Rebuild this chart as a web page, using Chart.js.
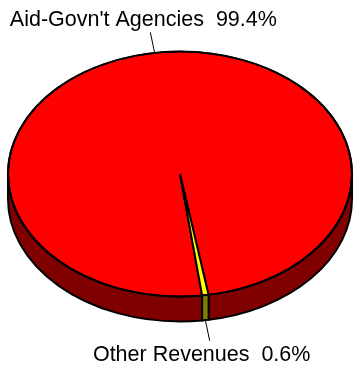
<!DOCTYPE html>
<html lang="en">
<head>
<meta charset="utf-8">
<title>revenue pie</title>
<script src="https://cdn.jsdelivr.net/npm/chart.js@4.4.0/dist/chart.umd.min.js"></script>
<style>
body { margin: 0; background: #fff; }
</style>
</head>
<body>
<canvas id="chart" width="354" height="368"></canvas>
<script>
const labels = ["Aid-Govn't Agencies", "Other Revenues"];
const shares = [99.4, 0.6];
const topColors = ['#ff0000', '#ffff00'];
const sideColors = ['#800000', '#808000'];

const squash = 122.5 / 172; // tilt of the disc
const depth = 25;           // thickness of the wall
const labelFont = '21.5px "Liberation Sans", Arial, sans-serif';

// draws the front wall, flattens the pie, then adds leader lines + labels
const tilt = {
	id: 'tilt',
	beforeDatasetsDraw(chart) {
		const ctx = chart.ctx;
		const arcs = chart.getDatasetMeta(0).data;
		const cx = arcs[0].x, cy = arcs[0].y, rx = arcs[0].outerRadius;
		const ry = rx * squash;
		arcs.forEach((arc, i) => {
			for (let k = -1; k <= 2; k++) {
				// only the part facing the viewer (0..PI) shows a wall
				const s = Math.max(arc.startAngle, 2 * Math.PI * k);
				const e = Math.min(arc.endAngle, 2 * Math.PI * k + Math.PI);
				if (e <= s) continue;
				ctx.beginPath();
				ctx.ellipse(cx, cy, rx, ry, 0, s, e);
				ctx.ellipse(cx, cy + depth, rx, ry, 0, e, s, true);
				ctx.closePath();
				ctx.fillStyle = sideColors[i];
				ctx.fill();
				ctx.lineWidth = 2;
				ctx.strokeStyle = '#000';
				ctx.stroke();
			}
		});
		ctx.save();
		ctx.translate(cx, cy);
		ctx.scale(1, squash);
		ctx.translate(-cx, -cy);
	},
	afterDatasetsDraw(chart) {
		const ctx = chart.ctx;
		ctx.restore();
		const arcs = chart.getDatasetMeta(0).data;
		const cx = arcs[0].x, cy = arcs[0].y, rx = arcs[0].outerRadius;
		const ry = rx * squash;
		ctx.save();
		// even out the rim, the scaling thins it at top and bottom
		ctx.beginPath();
		ctx.ellipse(cx, cy, rx, ry, 0, 0, 2 * Math.PI);
		ctx.lineWidth = 2;
		ctx.strokeStyle = '#000';
		ctx.stroke();

		ctx.font = labelFont;
		ctx.fillStyle = '#000';
		ctx.lineWidth = 1;
		ctx.textAlign = 'center';
		arcs.forEach((arc, i) => {
			const m = (arc.startAngle + arc.endAngle) / 2;
			const front = Math.sin(m) > 0;
			const x0 = cx + rx * Math.cos(m);
			const y0 = cy + ry * Math.sin(m) + (front ? depth : 0);
			let dx = rx * Math.cos(m), dy = ry * Math.sin(m);
			const len = Math.hypot(dx, dy);
			dx = dx / len * 21; dy = dy / len * 21;
			ctx.beginPath();
			ctx.moveTo(x0, y0);
			ctx.lineTo(x0 + dx, y0 + dy);
			ctx.stroke();
			const text = labels[i] + '  ' + shares[i].toFixed(1) + '%';
			if (front) {
				ctx.fillText(text, x0 + dx - 8, y0 + dy + 20);
			} else {
				ctx.fillText(text, x0 + dx - 7, y0 + dy - 6);
			}
		});
		ctx.restore();
	}
};

const chart = new Chart(document.getElementById('chart'), {
	type: 'pie',
	data: {
		labels: labels,
		datasets: [{
			data: shares,
			backgroundColor: topColors,
			borderColor: '#000',
			borderWidth: 2
		}]
	},
	options: {
		responsive: false,
		animation: false,
		events: [],
		rotation: 172.6,
		layout: { padding: { left: 7, right: 1, top: 1, bottom: 21 } },
		plugins: {
			legend: { display: false },
			tooltip: { enabled: false }
		}
	},
	plugins: [tilt]
});
</script>
</body>
</html>
